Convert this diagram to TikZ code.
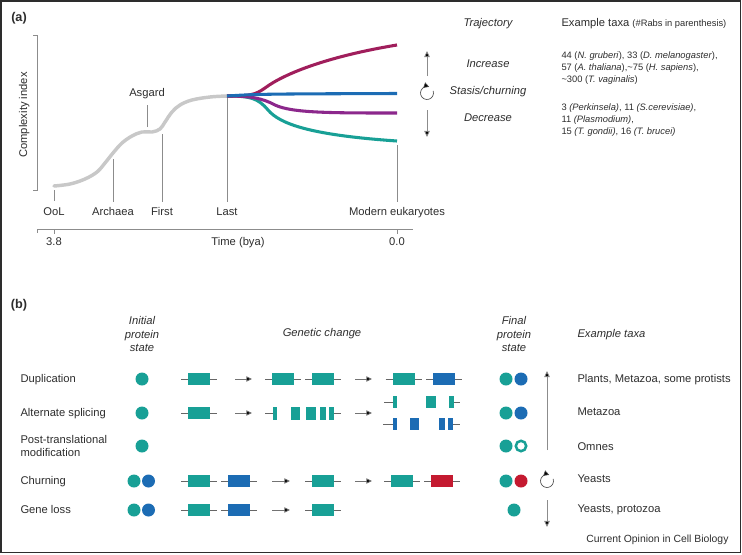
\documentclass[tikz,border=0pt]{standalone}
\usepackage{fontspec}
\setmainfont{Liberation Sans}
\usetikzlibrary{arrows.meta}

\definecolor{rabteal}{RGB}{24,160,150}
\definecolor{rabblue}{RGB}{28,108,180}
\definecolor{rabred}{RGB}{196,26,48}
\definecolor{rabmagenta}{RGB}{160,30,92}
\definecolor{rabpurple}{RGB}{140,40,140}
\definecolor{curvegray}{RGB}{200,200,200}
\definecolor{tickgray}{RGB}{140,140,140}
\definecolor{txtgray}{RGB}{45,45,45}

\tikzset{every picture/.style={line width=0.75pt}}

% gene: x centre, y centre, colour
\newcommand{\gene}[3]{%
  \draw[geneline] ({#1-18},#2) -- ({#1+18},#2);
  \fill[#3] ({#1-11},{#2-6}) rectangle ({#1+11},{#2+6});}

\begin{document}
\begin{tikzpicture}[x=0.75pt,y=0.75pt,yscale=-1,xscale=1,
  lbl/.style={font=\fontsize{8.4}{10.5}\selectfont, text=txtgray, inner sep=0pt, text height=6.2pt, text depth=1.6pt},
  itl/.style={lbl, font=\fontsize{8.4}{10.3}\selectfont\itshape},
  head/.style={font=\fontsize{8.4}{10.3}\selectfont\itshape, text=txtgray, inner sep=0pt, align=center},
  small/.style={font=\fontsize{7}{8.7}\selectfont, text=txtgray, inner sep=0pt, align=left},
  panel/.style={font=\fontsize{9.5}{11}\selectfont\bfseries, text=txtgray, inner sep=0pt},
  tick/.style={draw=tickgray, line width=0.6pt},
  geneline/.style={draw=black!60, line width=0.6pt},
  trend/.style={draw=tickgray, line width=0.6pt, -{Triangle[length=4.6pt,width=4.2pt,fill=black]}},
  step arrow/.style={draw=black!55, line width=0.6pt, -{Triangle[length=4.2pt,width=4pt,fill=black]}},
  churn/.style={draw=black!70, line width=0.5pt, -{Triangle[length=4pt,width=4.2pt,fill=black]}}]
  \useasboundingbox (0,0) rectangle (742,554);
  %Frame
  \draw[draw=txtgray, line width=1.4pt] (1,1) rectangle (740.5,552.5);

  %%%%%%%%%% panel (a)
  \node[panel] (pa) at (19,18) {(a)};
  \node[lbl, rotate=90] (yaxis) at (24,115) {Complexity index};
  \draw[tick] (33,35) -- (37,35) -- (37,190) -- (33,190);

  %Gray trajectory
  \draw[curvegray, line width=2.6pt, line cap=round] plot[smooth, tension=0.6] coordinates {(54,186) (70,184) (85,179) (97,172) (105,163) (113,153) (122,143) (132,136) (142,132) (152,132) (160,129) (165,122) (172,112) (180,105) (192,100) (210,97) (227,96)};

  %Branches after Last
  \draw[rabteal, line width=2.3pt] (227,96) .. controls (250,96) and (258,98) .. (268,110) .. controls (280,124) and (310,135) .. (397,141);
  \draw[rabpurple, line width=2.3pt] (227,96) .. controls (250,96) and (262,98) .. (275,105) .. controls (292,113) and (330,113) .. (397,113);
  \draw[rabmagenta, line width=2.3pt] (227,96) .. controls (250,96) and (255,95) .. (265,88) .. controls (285,73) and (330,56) .. (397,45);
  \draw[rabblue, line width=2.3pt] (227,96) .. controls (260,94) .. (397,93.5);

  %Curve points
  \coordinate (cOoL) at (54,190);
  \coordinate (cArch) at (113,159);
  \coordinate (cAsg) at (147,127);
  \coordinate (cFirst) at (162,134);
  \coordinate (cLast) at (227,98);
  \coordinate (cMod) at (397,145);

  \node[lbl] (ool) at (54,212) {OoL};
  \node[lbl] (arch) at (113,212) {Archaea};
  \node[lbl] (asg) at (147,93) {Asgard};
  \node[lbl] (first) at (162,212) {First};
  \node[lbl] (last) at (227,212) {Last};
  \node[lbl] (mod) at (397,212) {Modern eukaryotes};

  \draw[tick, shorten >=4pt] (cOoL) -- (ool.north);
  \draw[tick, shorten >=3.6pt] (cArch) -- (arch.north);
  \draw[tick, shorten >=5pt] (cAsg) -- (asg.south);
  \draw[tick, shorten >=3.6pt] (cFirst) -- (first.north);
  \draw[tick, shorten >=3.6pt] (cLast) -- (last.north);
  \draw[tick, shorten >=3.6pt] (cMod) -- (mod.north);

  %Time axis
  \draw[tick] (37,229) -- (413,229);
  \draw[tick] (37,229) -- (37,233);
  \draw[tick] (54,229) -- (54,234);
  \draw[tick] (397,229) -- (397,234);
  \node[lbl] (t38) at (54,242) {3.8};
  \node[lbl] (time) at (238,242) {Time (bya)};
  \node[lbl] (t00) at (397,242) {0.0};

  %Trajectory legend
  \node[itl] (traj) at (488,23) {Trajectory};
  \node[lbl, anchor=west] (extaxa) at (561,23) {Example taxa {\fontsize{7}{8}\selectfont(\#Rabs in parenthesis)}};
  \node[itl] (incr) at (488,64) {Increase};
  \node[itl] (stasis) at (488,91) {Stasis/churning};
  \node[itl] (decr) at (488,118) {Decrease};

  \coordinate (upA) at (427,76);
  \coordinate (upB) at (427,51);
  \coordinate (dnA) at (427,110);
  \coordinate (dnB) at (427,137);
  \draw[trend] (upA) -- (upB);
  \draw[trend] (dnA) -- (dnB);
  \draw[churn] ([shift={(-20:6.5)}]427,93) arc (-20:290:6.5);

  \node[small, anchor=west] (incrtaxa) at (561,68) {44 (\textit{N. gruberi}), 33 (\textit{D. melanogaster}),\\57 (\textit{A. thaliana}),\textasciitilde75 (\textit{H. sapiens}),\\\textasciitilde300 (\textit{T. vaginalis})};
  \node[small, anchor=west] (decrtaxa) at (561,120) {3 \textit{(Perkinsela)}, 11 \textit{(S.cerevisiae)},\\11 \textit{(Plasmodium)},\\15 \textit{(T. gondii)}, 16 \textit{(T. brucei)}};

  %%%%%%%%%% panel (b)
  \node[panel] (pb) at (19,305) {(b)};
  \node[head] (initial) at (142,334) {Initial\\protein\\state};
  \node[head] (genchange) at (322,334) {Genetic change};
  \node[head] (final) at (514,334) {Final\\protein\\state};
  \node[itl, anchor=west] (extaxab) at (577,334) {Example taxa};

  %Row labels
  \node[lbl, anchor=west] (dup) at (20,379) {Duplication};
  \node[lbl, anchor=west] (alt) at (20,413) {Alternate splicing};
  \node[lbl, anchor=west, align=left, text height=, text depth=, font=\fontsize{8.4}{9.8}\selectfont] (ptm) at (20,446) {Post-translational\\modification};
  \node[lbl, anchor=west] (churning) at (20,481) {Churning};
  \node[lbl, anchor=west] (loss) at (20,510) {Gene loss};

  %Initial states
  \fill[rabteal] (142,379) circle (6.5);
  \fill[rabteal] (142,413) circle (6.5);
  \fill[rabteal] (142,446) circle (6.5);
  \fill[rabteal] (134,481) circle (6.5);
  \fill[rabblue] (148.5,481) circle (6.5);
  \fill[rabteal] (134,510) circle (6.5);
  \fill[rabblue] (148.5,510) circle (6.5);

  %Duplication
  \gene{199}{379}{rabteal}
  \gene{283}{379}{rabteal}
  \gene{323}{379}{rabteal}
  \gene{403.5}{379}{rabteal}
  \gene{444}{379}{rabblue}
  \coordinate (d1) at (235,379); \coordinate (d2) at (252,379);
  \coordinate (d3) at (355,379); \coordinate (d4) at (372,379);
  \draw[step arrow] (d1) -- (d2);
  \draw[step arrow] (d3) -- (d4);

  %Alternate splicing
  \gene{199}{413}{rabteal}
  \draw[geneline] (265,413) -- (273,413);
  \draw[geneline] (334,413) -- (341,413);
  \foreach \a/\b in {273/277, 291/300, 306/316, 320/326, 329/334}
    \fill[rabteal] (\a,406.5) rectangle (\b,419.5);
  \draw[geneline] (384,402) -- (393,402);
  \draw[geneline] (454,402) -- (460,402);
  \foreach \a/\b in {393/397, 426/436, 449/454}
    \fill[rabteal] (\a,396) rectangle (\b,408);
  \draw[geneline] (383,424) -- (393,424);
  \draw[geneline] (453,424) -- (460,424);
  \foreach \a/\b in {393/397, 410/419, 439/445, 448/453}
    \fill[rabblue] (\a,418) rectangle (\b,430);
  \coordinate (a1) at (235,413); \coordinate (a2) at (252,413);
  \coordinate (a3) at (355,413); \coordinate (a4) at (372,413);
  \draw[step arrow] (a1) -- (a2);
  \draw[step arrow] (a3) -- (a4);

  %Churning
  \gene{199}{481}{rabteal}
  \gene{239}{481}{rabblue}
  \gene{323}{481}{rabteal}
  \gene{402}{481}{rabteal}
  \gene{442}{481}{rabred}
  \coordinate (c1) at (272,481); \coordinate (c2) at (290,481);
  \coordinate (c3) at (355,481); \coordinate (c4) at (372,481);
  \draw[step arrow] (c1) -- (c2);
  \draw[step arrow] (c3) -- (c4);

  %Gene loss
  \gene{199}{510}{rabteal}
  \gene{239}{510}{rabblue}
  \gene{323}{510}{rabteal}
  \coordinate (g1) at (272,510); \coordinate (g2) at (290,510);
  \draw[step arrow] (g1) -- (g2);

  %Final states
  \fill[rabteal] (506,379) circle (6.5);
  \fill[rabblue] (521,379) circle (6.5);
  \fill[rabteal] (506,413) circle (6.5);
  \fill[rabblue] (521,413) circle (6.5);
  \fill[rabteal] (506,446) circle (6.5);
  \draw[rabteal, line width=1.9pt] (521,446) circle (5.2);
  \fill[rabteal] (506,481) circle (6.5);
  \fill[rabred] (521,481) circle (6.5);
  \fill[rabteal] (514,510) circle (6.5);

  \coordinate (bupA) at (547,450);
  \coordinate (bupB) at (547,371);
  \coordinate (bdnA) at (547,500);
  \coordinate (bdnB) at (547,527);
  \draw[trend] (bupA) -- (bupB);
  \draw[trend] (bdnA) -- (bdnB);
  \draw[churn] ([shift={(-20:6.5)}]547,481) arc (-20:290:6.5);

  %Example taxa
  \node[lbl, anchor=west] (tx1) at (577,379) {Plants, Metazoa, some protists};
  \node[lbl, anchor=west] (tx2) at (577,412) {Metazoa};
  \node[lbl, anchor=west] (tx3) at (577,447) {Omnes};
  \node[lbl, anchor=west] (tx4) at (577,479) {Yeasts};
  \node[lbl, anchor=west] (tx5) at (577,509) {Yeasts, protozoa};

  \node[lbl, anchor=east, font=\fontsize{7.8}{9}\selectfont] (credit) at (729,539) {Current Opinion in Cell Biology};
\end{tikzpicture}
\end{document}
